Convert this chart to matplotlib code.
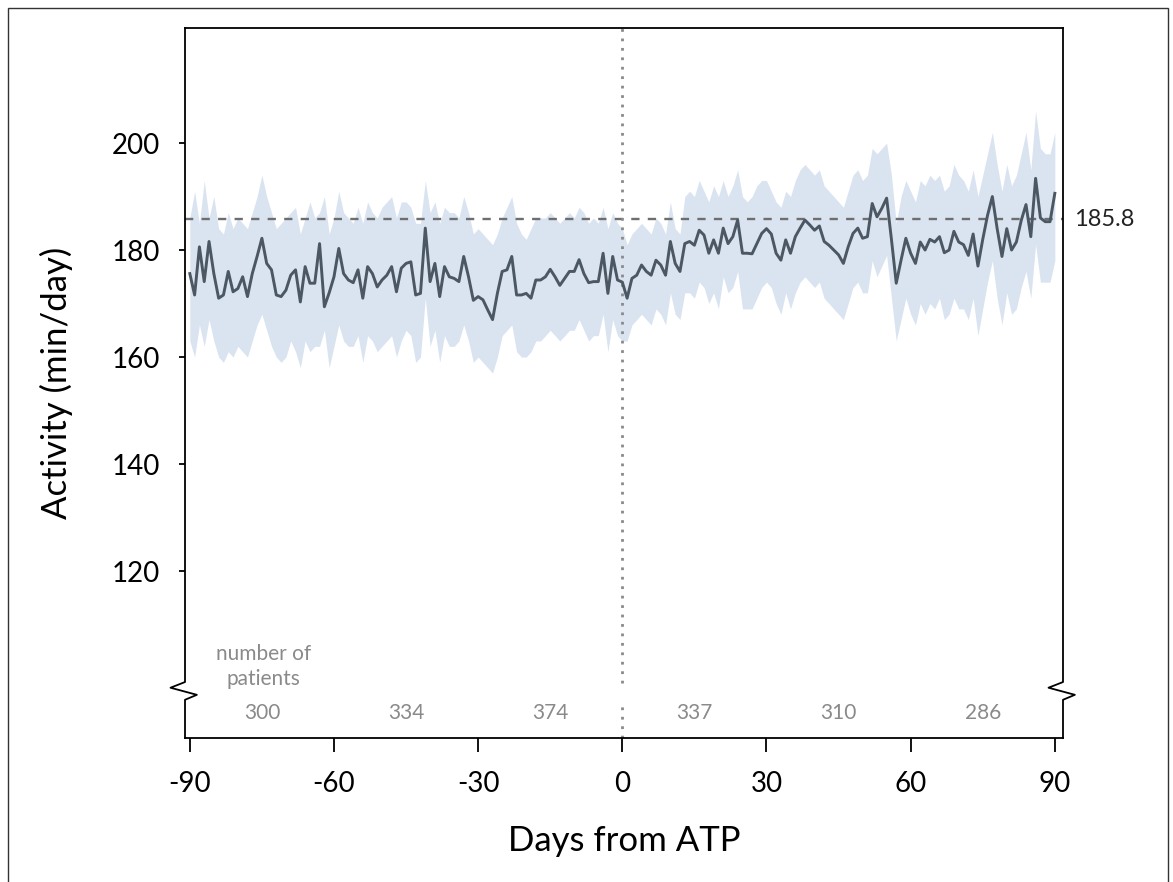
import matplotlib
matplotlib.use("Agg")
import matplotlib.pyplot as plt
from matplotlib.lines import Line2D
from matplotlib.patches import Rectangle

plt.rcParams['font.family'] = ['Lato', 'DejaVu Sans']

days = list(range(-90, 91))

activity = [
    # -90 .. -61
    175.6, 171.6, 180.6, 174.1, 181.6, 175.6, 171.0, 171.6, 176.0, 172.2,
    172.8, 175.0, 171.3, 175.6, 178.8, 182.2, 177.5, 176.3, 171.6, 171.3,
    172.5, 175.3, 176.3, 170.3, 176.9, 173.8, 173.8, 181.2, 169.4, 172.0,
    # -60 .. -31
    175.0, 180.3, 175.6, 174.4, 173.9, 176.3, 171.0, 176.9, 175.6, 173.1,
    174.4, 175.3, 176.9, 172.2, 176.6, 177.5, 177.8, 171.6, 171.9, 184.1,
    174.1, 177.5, 171.3, 176.9, 175.0, 174.7, 174.1, 178.8, 175.0, 170.6,
    # -30 .. -1
    171.3, 170.7, 168.8, 167.0, 171.9, 176.0, 176.3, 178.8, 171.6, 171.6,
    171.9, 171.0, 174.4, 174.4, 175.0, 176.4, 175.0, 173.4, 174.7, 176.0,
    176.0, 178.2, 175.6, 173.9, 174.1, 174.1, 179.4, 171.9, 178.8, 174.4,
    # 0 .. 30
    174.0, 171.0, 174.7, 175.3, 177.2, 176.0, 175.3, 178.1, 177.2, 175.3,
    181.6, 177.5, 176.0, 181.2, 181.6, 180.9, 183.7, 182.8, 179.4, 181.9,
    179.4, 184.1, 181.2, 182.5, 185.6, 179.4, 179.4, 179.3, 181.2, 183.1,
    184.0,
    # 31 .. 60
    183.0, 179.4, 178.1, 181.9, 179.4, 182.5, 184.1, 185.6, 184.7, 183.7,
    184.5, 181.6, 180.9, 180.0, 179.1, 177.5, 180.6, 183.1, 184.1, 182.2,
    182.5, 188.7, 186.2, 187.8, 189.7, 182.0, 173.8, 178.1, 182.2, 179.4,
    # 61 .. 90
    177.5, 181.5, 180.0, 182.0, 181.5, 182.5, 179.5, 180.0, 183.5, 181.5,
    181.0, 179.0, 183.0, 177.0, 182.0, 186.5, 190.0, 184.0, 178.8, 184.0,
    180.0, 181.5, 185.5, 188.5, 182.5, 193.4, 186.0, 185.3, 185.3, 190.6,
]

ci_upper = [
    # -90 .. -61
    186, 191, 185, 193, 186, 190, 184, 183, 187, 184,
    186, 185, 184, 187, 190, 194, 190, 187, 184, 185,
    186, 187, 188, 183, 186, 189, 186, 187, 190, 183,
    # -60 .. -31
    186, 191, 187, 186, 185, 188, 185, 189, 187, 186,
    188, 189, 190, 186, 189, 189, 188, 185, 185, 193,
    187, 189, 185, 188, 187, 187, 186, 190, 187, 183,
    # -30 .. -1
    184, 183, 182, 181, 183, 186, 188, 190, 185, 183,
    182, 184, 186, 186, 186, 187, 186, 185, 186, 187,
    186, 188, 187, 185, 186, 185, 188, 184, 187, 185,
    # 0 .. 30
    184, 181, 183, 184, 185, 184, 183, 186, 185, 183,
    189, 184, 183, 190, 191, 190, 193, 191, 189, 192,
    190, 193, 190, 192, 195, 190, 189, 190, 192, 193,
    193,
    # 31 .. 60
    191, 189, 188, 191, 190, 193, 195, 196, 195, 194,
    195, 192, 191, 190, 189, 188, 191, 194, 195, 193,
    194, 199, 198, 199, 200, 194, 185, 190, 193, 191,
    # 61 .. 90
    189, 193, 192, 194, 193, 194, 191, 192, 196, 194,
    193, 191, 195, 190, 194, 198, 202, 196, 191, 196,
    192, 194, 198, 202, 195, 206, 199, 198, 198, 202,
]

ci_lower = [
    # -90 .. -61
    163, 160, 166, 162, 167, 163, 160, 159, 161, 160,
    162, 161, 160, 163, 166, 168, 165, 162, 160, 159,
    160, 163, 161, 158, 163, 161, 162, 162, 165, 158,
    # -60 .. -31
    162, 166, 163, 162, 162, 164, 159, 164, 163, 161,
    162, 163, 164, 160, 163, 165, 164, 159, 160, 171,
    162, 165, 159, 164, 162, 162, 163, 166, 163, 159,
    # -30 .. -1
    160, 159, 158, 157, 160, 164, 165, 166, 161, 160,
    160, 161, 163, 163, 164, 165, 164, 163, 164, 165,
    165, 167, 165, 163, 164, 164, 168, 161, 167, 164,
    # 0 .. 30
    163, 163, 166, 167, 168, 167, 166, 169, 168, 166,
    172, 168, 167, 172, 172, 171, 174, 173, 170, 172,
    169, 175, 172, 173, 176, 169, 169, 169, 171, 173,
    174,
    # 31 .. 60
    173, 170, 168, 172, 169, 172, 174, 175, 174, 173,
    174, 171, 170, 169, 168, 167, 170, 173, 174, 172,
    172, 178, 175, 177, 179, 171, 163, 167, 171, 168,
    # 61 .. 90
    166, 170, 168, 170, 169, 171, 167, 168, 171, 169,
    169, 167, 171, 164, 169, 174, 178, 171, 166, 172,
    168, 169, 173, 176, 171, 181, 174, 174, 174, 178,
]

reference_value = 185.8
patient_days = [-75, -45, -15, 15, 45, 75]
patient_counts = [300, 334, 374, 337, 310, 286]
x_ticks = [-90, -60, -30, 0, 30, 60, 90]
y_ticks = [120, 140, 160, 180, 200]

LINE_COLOR = '#4c5764'
BAND_COLOR = '#dae4f1'
GRAY_TEXT = '#8a8a8a'

fig = plt.figure(figsize=(11.73, 8.82), dpi=100)
ax = fig.add_axes([185/1173, 1-738/882, (1063-185)/1173, (738-28)/882])

ymin, ymax = 88.8, 221.5
ax.set_xlim(-91.0, 91.7)
ax.set_ylim(ymin, ymax)

ax.fill_between(days, ci_lower, ci_upper, color=BAND_COLOR, lw=0, zorder=1)
ax.plot(days, activity, color=LINE_COLOR, lw=2.1, zorder=3)

# reference dashed line
ax.axhline(reference_value, color='#6e6e6e', lw=1.7, ls=(0, (3.5, 3.5)), zorder=2)
ax.text(1.013, reference_value, f'{reference_value}', transform=ax.get_yaxis_transform(),
        va='center', ha='left', fontsize=17, color='#222222')

# vertical dotted line at 0 with gap near the axis break
brk = 97.8
ax.plot([0, 0], [brk + 1.2, ymax], color='#8a8a8a', lw=2.0, ls=(0, (1, 2.4)), zorder=2)
ax.plot([0, 0], [ymin, brk - 2.8], color='#8a8a8a', lw=2.0, ls=(0, (1, 2.4)), zorder=2)

# patient numbers
ax.text(-74.7, 102.2, 'number of\npatients', ha='center', va='center', fontsize=15,
        color=GRAY_TEXT, linespacing=1.35)
for d, n in zip(patient_days, patient_counts):
    ax.text(d, 93.5, str(n), ha='center', va='center', fontsize=15, color=GRAY_TEXT)

# spines
for s in ['left', 'right']:
    ax.spines[s].set_visible(False)
ax.spines['top'].set_linewidth(1.3)
ax.spines['bottom'].set_linewidth(1.3)

yb = (brk - ymin) / (ymax - ymin)
for xs in (0.0, 1.0):
    xx = [xs, xs, xs - 0.0165, xs + 0.0135, xs, xs]
    yy = [1.0, yb + 0.011, yb + 0.003, yb - 0.007, yb - 0.014, 0.0]
    ax.add_line(Line2D(xx, yy, transform=ax.transAxes, color='black', lw=1.3,
                       clip_on=False, zorder=5))

ax.set_xticks(x_ticks)
ax.set_xticklabels([str(t) for t in x_ticks])
ax.set_yticks(y_ticks)
ax.tick_params(axis='x', direction='out', length=10, width=1.3, pad=14, labelsize=20)
ax.tick_params(axis='y', direction='out', length=4, width=1.3, pad=14, labelsize=20)

ax.set_xlabel('Days from ATP', fontsize=25, labelpad=20)
ax.set_ylabel('Activity (min/day)', fontsize=25, labelpad=28)

# figure border
fig.patches.append(Rectangle((8/1173, -0.01), (1168-8)/1173, 1 - 8/882 + 0.01,
                             transform=fig.transFigure, fill=False, lw=1.0,
                             edgecolor='#333333'))

fig.savefig('out.png', dpi=100)
